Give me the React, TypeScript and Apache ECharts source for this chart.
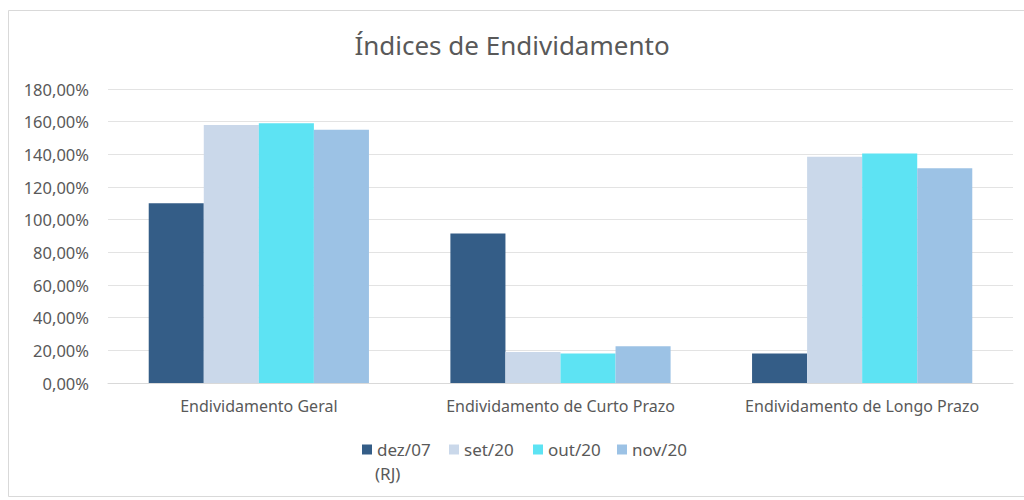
import React, { useEffect, useRef } from "react";
import * as echarts from "echarts";

const categories = ["Endividamento Geral", "Endividamento de Curto Prazo", "Endividamento de Longo Prazo"];
const seriesNames = ["dez/07 (RJ)", "set/20", "out/20", "nov/20"];
const dez07 = [110, 91.5, 18];
const set20 = [158, 19, 138.5];
const out20 = [159, 18, 140.5];
const nov20 = [155, 22.5, 131.5];
const yTicks = [0, 20, 40, 60, 80, 100, 120, 140, 160, 180];
const colors = ["#345D87", "#CAD8EA", "#5DE3F3", "#9CC2E5"];

const FONT = "'Noto Sans', sans-serif";
const TXT = "#595959";

export default function App() {
  const ref = useRef<HTMLDivElement>(null);
  useEffect(() => {
    if (!ref.current) return;
    const chart = echarts.init(ref.current, undefined, { renderer: "svg" });
    const values = [dez07, set20, out20, nov20];
    const legendLefts = [362, 449, 533, 617];
    chart.setOption({
      animation: false,
      backgroundColor: "#ffffff",
      textStyle: { fontFamily: FONT },
      title: {
        text: "Índices de Endividamento",
        left: "center",
        top: 27,
        textStyle: { fontFamily: FONT, fontSize: 26, fontWeight: "normal", color: TXT },
      },
      legend: seriesNames.map((n, i) => ({
        data: [n],
        left: legendLefts[i],
        top: 441,
        padding: 0,
        itemWidth: 10,
        itemHeight: 10,
        icon: "rect",
        formatter: (name: string) => (name === "dez/07 (RJ)" ? "dez/07" : name),
        textStyle: { fontFamily: FONT, fontSize: 17, color: TXT },
      })),
      graphic: [
        {
          type: "rect",
          shape: { x: 8.5, y: 10.5, width: 1030, height: 486 },
          style: { fill: "none", stroke: "#d9d9d9", lineWidth: 1 },
          silent: true,
        },
        {
          type: "text",
          left: 375,
          top: 465,
          style: { text: "(RJ)", fontFamily: FONT, fontSize: 17, fill: TXT },
        },
      ],
      grid: { left: 108, right: 11, top: 89, bottom: 117, containLabel: false },
      xAxis: {
        type: "category",
        data: categories,
        axisLine: { show: true, lineStyle: { color: "#d9d9d9" } },
        axisTick: { show: false },
        axisLabel: { interval: 0, fontFamily: FONT, fontSize: 16, color: TXT, margin: 15 },
      },
      yAxis: {
        type: "value",
        min: yTicks[0],
        max: yTicks[yTicks.length - 1],
        interval: 20,
        axisLine: { show: false },
        axisTick: { show: false },
        splitLine: { lineStyle: { color: "#e3e3e3" } },
        axisLabel: {
          fontFamily: FONT,
          fontSize: 16.5,
          color: TXT,
          margin: 19,
          formatter: (v: number) => v.toFixed(2).replace(".", ",") + "%",
        },
      },
      series: seriesNames.map((n, i) => ({
        name: n,
        type: "bar",
        data: values[i],
        itemStyle: { color: colors[i] },
        barGap: "0%",
        barCategoryGap: "27%",
      })),
    });
    return () => chart.dispose();
  }, []);
  return (
    <div
      ref={ref}
      style={{ position: "fixed", left: 0, top: 0, width: 1024, height: 500 }}
    />
  );
}
